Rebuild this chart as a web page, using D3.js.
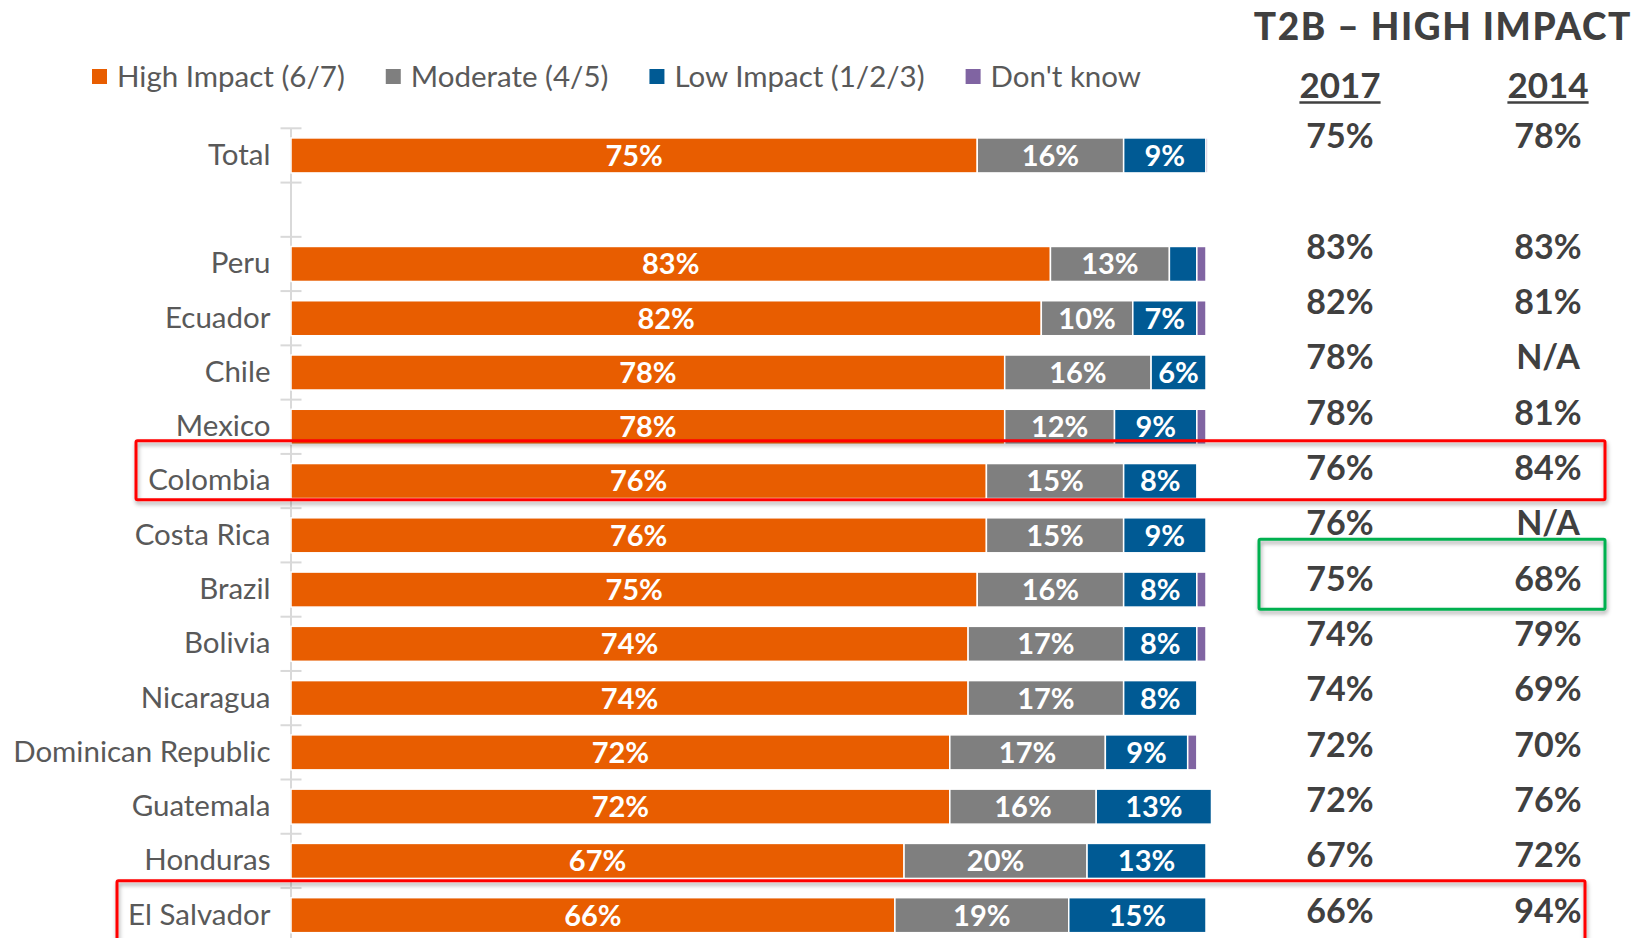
<!DOCTYPE html>
<html>
<head>
<meta charset="utf-8">
<script src="https://cdn.jsdelivr.net/npm/d3@7"></script>
<style>
  body { margin: 0; background: #fff; }
  svg { display: block; }
  text { font-family: Lato, sans-serif; }
</style>
</head>
<body>
<div id="chart"></div>
<script>
// categories, '' is the empty gap row under Total
var categories = ['Total', '', 'Peru', 'Ecuador', 'Chile', 'Mexico', 'Colombia', 'Costa Rica', 'Brazil',
  'Bolivia', 'Nicaragua', 'Dominican Republic', 'Guatemala', 'Honduras', 'El Salvador']

var highImpact = [75, null, 83, 82, 78, 78, 76, 76, 75, 74, 74, 72, 72, 67, 66]
var moderate = [16, null, 13, 10, 16, 12, 15, 15, 16, 17, 17, 17, 16, 20, 19]
var lowImpact = [9, null, 3, 7, 6, 9, 8, 9, 8, 8, 8, 9, 12.6, 13, 15]
var dontKnow = [0.2, null, 1, 1, 0, 1, 0, 0, 1, 1, 0, 1, 0, 0, 0]

var legendLabels = ['High Impact (6/7)', 'Moderate (4/5)', 'Low Impact (1/2/3)', "Don't know"]

// T2B table, null = N/A
var t2b2017 = [75, null, 83, 82, 78, 78, 76, 76, 75, 74, 74, 72, 72, 67, 66]
var t2b2014 = [78, null, 83, 81, null, 81, 84, null, 68, 79, 69, 70, 76, 72, 94]
var tableYears = ['2017', '2014']

var keys = ['high', 'moderate', 'low', 'dk']
var colors = ['#e85d00', '#7f7f7f', '#005a94', '#8064a2']

var width = 1635
var height = 938

var svg = d3
  .select('#chart')
  .append('svg')
  .attr('width', width)
  .attr('height', height)

var rows = categories.map(function(c, i) {
  return { name: c, high: highImpact[i], moderate: moderate[i], low: lowImpact[i], dk: dontKnow[i] }
}).filter(d => d.name !== '')

var y = d3
  .scaleBand()
  .domain(categories)
  .range([128.3, 942.3])
  .paddingInner(0.355)
  .paddingOuter(0.1775)

var x = d3.scaleLinear().domain([0, 100]).range([291, 1206])

var colorScale = d3.scaleOrdinal().domain(keys).range(colors)

// table rows have their own line spacing
var yTable = d3.scaleBand().domain(categories).range([109, 939])

var defs = svg.append('defs')
var shadow = defs.append('filter').attr('id', 'shadow')
  .attr('x', '-5%').attr('y', '-40%').attr('width', '110%').attr('height', '180%')
shadow.append('feDropShadow')
  .attr('dx', 1).attr('dy', 3).attr('stdDeviation', 2)
  .attr('flood-color', '#000').attr('flood-opacity', 0.35)

// legend
var legend = svg.append('g').attr('class', 'legend')
var lx = 92
keys.forEach(function(k, i) {
  var g = legend.append('g').attr('transform', 'translate(' + lx + ',0)')
  g.append('rect')
    .attr('y', 69)
    .attr('width', 15)
    .attr('height', 15)
    .attr('fill', colorScale(k))
  var t = g.append('text')
    .attr('x', 25)
    .attr('y', 76.5)
    .attr('dy', '0.35em')
    .attr('font-size', 29.5)
    .attr('fill', '#595959')
    .text(legendLabels[i])
  lx += 25 + t.node().getComputedTextLength() + 41
})

// category axis
var axis = svg
  .append('g')
  .attr('class', 'y-axis')
  .attr('transform', 'translate(290.5,0)')
  .call(d3.axisLeft(y).tickSize(0).tickSizeOuter(0).tickPadding(20))

axis.attr('font-family', 'Lato, sans-serif').attr('font-size', 29.5)
axis.select('.domain').attr('stroke', '#d9d9d9').attr('stroke-width', 2)
axis.selectAll('text').attr('fill', '#595959')

var boundaries = categories.map(d => y(d) - (y.step() * y.paddingInner()) / 2)
boundaries.push(y(categories[categories.length - 1]) + y.bandwidth() + (y.step() * y.paddingInner()) / 2)

axis
  .selectAll('.bound')
  .data(boundaries)
  .enter()
  .append('line')
  .attr('class', 'bound')
  .attr('x1', -10)
  .attr('x2', 11)
  .attr('y1', d => d)
  .attr('y2', d => d)
  .attr('stroke', '#d9d9d9')
  .attr('stroke-width', 2)

// stacked bars
var stacked = d3.stack().keys(keys)(rows)

var layers = svg
  .selectAll('.layer')
  .data(stacked)
  .enter()
  .append('g')
  .attr('class', 'layer')
  .attr('fill', d => colorScale(d.key))

layers
  .selectAll('rect')
  .data(d => d)
  .enter()
  .append('rect')
  .attr('x', d => x(d[0]))
  .attr('y', d => y(d.data.name))
  .attr('width', d => Math.max(0, x(d[1]) - x(d[0])))
  .attr('height', y.bandwidth())
  .attr('stroke', '#fff')
  .attr('stroke-width', 1.5)

layers
  .selectAll('.seg-label')
  .data(d => d.filter(s => s[1] - s[0] >= 4))
  .enter()
  .append('text')
  .attr('class', 'seg-label')
  .attr('x', d => (x(d[0]) + x(d[1])) / 2)
  .attr('y', d => y(d.data.name) + y.bandwidth() / 2)
  .attr('dy', '0.36em')
  .attr('text-anchor', 'middle')
  .attr('fill', '#fff')
  .attr('font-size', 29)
  .attr('font-weight', 700)
  .text(d => Math.round(d[1] - d[0]) + '%')

// T2B table
var table = svg.append('g').attr('class', 'table')
var colX = [1340, 1548]

table
  .append('text')
  .attr('x', 1632)
  .attr('y', 40)
  .attr('text-anchor', 'end')
  .attr('font-size', 37)
  .attr('font-weight', 900)
  .attr('letter-spacing', 1.6)
  .attr('fill', '#404040')
  .text('T2B \u2013 HIGH IMPACT')

tableYears.forEach(function(yr, i) {
  var t = table
    .append('text')
    .attr('x', colX[i])
    .attr('y', 98)
    .attr('text-anchor', 'middle')
    .attr('font-size', 35)
    .attr('font-weight', 700)
    .attr('fill', '#404040')
    .text(yr)
  var w = t.node().getComputedTextLength()
  table
    .append('line')
    .attr('x1', colX[i] - w / 2)
    .attr('x2', colX[i] + w / 2)
    .attr('y1', 102.5)
    .attr('y2', 102.5)
    .attr('stroke', '#404040')
    .attr('stroke-width', 2.5)
})

var tableRows = categories
  .map((c, i) => ({ name: c, v2017: t2b2017[i], v2014: t2b2014[i] }))
  .filter(d => d.name !== '')

;['v2017', 'v2014'].forEach(function(col, i) {
  table
    .selectAll('.val-' + col)
    .data(tableRows)
    .enter()
    .append('text')
    .attr('class', 'val-' + col)
    .attr('x', colX[i])
    .attr('y', d => yTable(d.name) + yTable.bandwidth() / 2)
    .attr('dy', '0.33em')
    .attr('text-anchor', 'middle')
    .attr('font-size', 34)
    .attr('font-weight', 700)
    .attr('fill', '#404040')
    .text(d => (d[col] === null ? 'N/A' : d[col] + '%'))
})

// highlight boxes
var boxes = [
  { name: 'Colombia', x1: 136, x2: 1605, up: 28, down: 31, color: '#ff0000' },
  { name: 'Brazil', x1: 1259, x2: 1605, up: 40, down: 30, color: '#00b050' },
  { name: 'El Salvador', x1: 117, x2: 1585, up: 30.5, down: 60, color: '#ff0000' }
]

svg
  .selectAll('.box')
  .data(boxes)
  .enter()
  .append('rect')
  .attr('class', 'box')
  .attr('x', d => d.x1)
  .attr('y', d => yTable(d.name) + yTable.bandwidth() / 2 - d.up)
  .attr('width', d => d.x2 - d.x1)
  .attr('height', d => d.up + d.down)
  .attr('fill', 'none')
  .attr('stroke', d => d.color)
  .attr('stroke-width', 3)
  .attr('rx', 1.5)
  .attr('filter', 'url(#shadow)')
</script>
</body>
</html>
